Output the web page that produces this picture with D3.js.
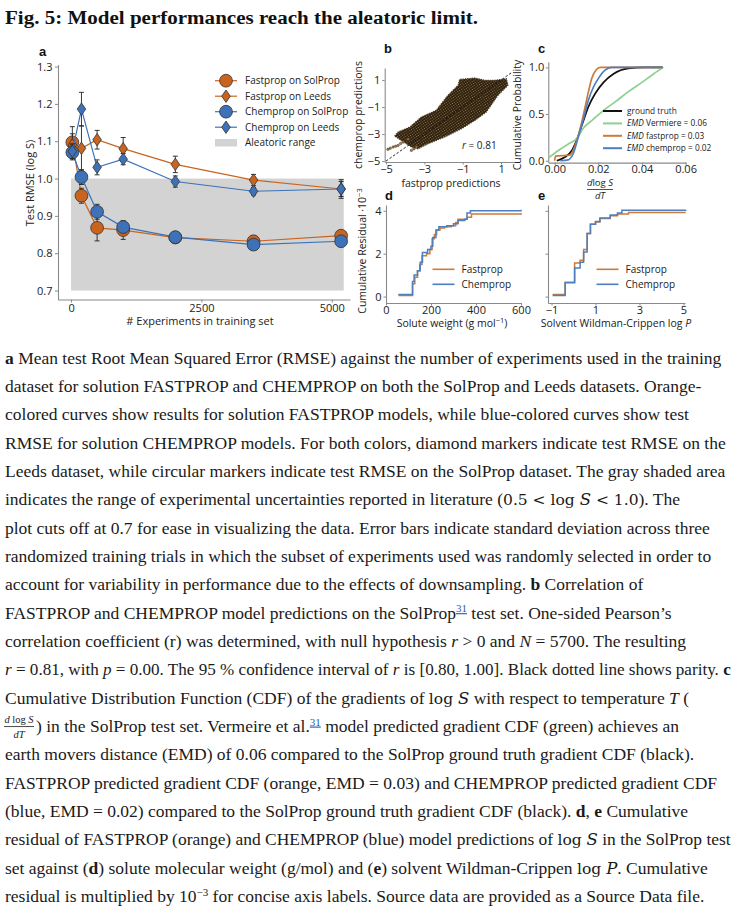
<!DOCTYPE html>
<html><head><meta charset="utf-8">
<script src="https://cdn.jsdelivr.net/npm/d3@7"></script>
<style>
body{margin:0;background:#fff}
</style></head><body>
<svg id="fig" width="737" height="916"></svg>
<script>
// ---- panel a: RMSE vs training set size
let nExp = [25, 200, 500, 1000, 2000, 3500, 5180];
let fastSol = [1.097, 0.954, 0.868, 0.862, 0.842, 0.832, 0.847];
let fastSolSd = [0.042, 0.02, 0.035, 0.025, 0.012, 0.015, 0.008];
let fastLeeds = [1.09, 1.081, 1.104, 1.080, 1.038, 0.996, 0.972];
let fastLeedsSd = [0.03, 0.06, 0.025, 0.03, 0.022, 0.015, 0.02];
let chemSol = [1.07, 1.004, 0.911, 0.870, 0.843, 0.823, 0.832];
let chemSolSd = [0.02, 0.02, 0.02, 0.015, 0.012, 0.008, 0.006];
let chemLeeds = [1.073, 1.186, 1.030, 1.052, 0.992, 0.966, 0.972];
let chemLeedsSd = [0.02, 0.045, 0.02, 0.015, 0.015, 0.01, 0.025];
let aleatoricY = [0.7, 1.0];
let aleatoricX = [0, 5230];
let aTicksY = [0.7, 0.8, 0.9, 1.0, 1.1, 1.2, 1.3];
let aTicksX = [0, 2500, 5000];

// ---- panel b: prediction cloud (outline) + sparse tail points
let cloudEdge = [[-4.55,-3.15],[-4.37,-2.85],[-3.76,-2.48],[-3.16,-1.74],[-2.38,-1.24],[-1.77,-0.13],
  [-1.24,0.61],[-1.16,1.05],[-0.37,1.15],[0.15,0.98],[0.67,0.98],[1.28,1.1],[1.36,0.61],[0.84,-0.13],
  [0.23,-1.37],[-0.37,-1.99],[-1.07,-2.61],[-1.94,-3.22],[-2.81,-3.72],[-3.33,-4.09],[-3.68,-3.96],[-4.2,-3.47]];
let tailPts = [[-4.9,-4.13],[-4.63,-3.96],[-4.37,-3.84],[-4.11,-3.59],[-3.85,-3.39],[-3.68,-4.21],
  [-3.42,-3.96],[-4.78,-4.05],[-4.5,-3.9],[-4.24,-3.7],[-3.55,-4.1]];
let bTicks = [-5, -3, -1, 1];
let rValue = 0.81;

// ---- panel c: gradient CDFs
let cdfTruth = [[0.001,0],[0.0048,0.04],[0.0079,0.11],[0.0109,0.27],[0.0132,0.43],[0.0155,0.58],[0.0186,0.72],
  [0.0224,0.84],[0.0269,0.93],[0.0338,0.99],[0.041,1.0],[0.0495,1.0]];
let cdfVermeire = [[-0.0028,0.03],[0.0017,0.11],[0.0063,0.18],[0.0102,0.24],[0.0132,0.35],[0.017,0.43],
  [0.0224,0.54],[0.0277,0.63],[0.0338,0.74],[0.04,0.84],[0.0453,0.93],[0.0498,1.0]];
let cdfFast = [[0,0],[0.0004,0.05],[0.007,0.06],[0.0102,0.22],[0.0125,0.42],[0.014,0.58],[0.0155,0.74],
  [0.017,0.88],[0.0189,0.97],[0.0209,1.0],[0.0495,1.0]];
let cdfChem = [[0.0026,0],[0.0063,0.01],[0.0086,0.08],[0.0109,0.26],[0.0132,0.45],[0.0155,0.65],[0.0178,0.79],
  [0.02,0.88],[0.0231,0.97],[0.026,1.0],[0.0495,1.0]];
let cLegend = ["ground truth", "Vermiere = 0.06", "fastprop = 0.03", "chemprop = 0.02"];
let cTicksX = [0, 0.02, 0.04, 0.06];
let cTicksY = [0, 0.5, 1];

// ---- panel d: cumulative residual vs solute weight
let resWFast = [[55,0.05],[115,0.05],[118,0.6],[128,0.9],[140,1.2],[150,1.5],[160,1.9],[180,2.0],[195,2.2],
  [205,2.7],[215,2.9],[225,3.1],[240,3.2],[260,3.25],[290,3.3],[310,3.45],[320,3.6],[345,3.6],[360,3.7],[380,3.85],[600,3.9]];
let resWChem = [[55,0.1],[115,0.1],[118,0.7],[125,1.0],[140,1.2],[152,1.6],[162,2.05],[185,2.2],[200,2.35],
  [208,2.75],[222,3.1],[235,3.25],[270,3.3],[300,3.4],[320,3.55],[350,3.6],[360,3.9],[375,4.0],[600,4.05]];
// ---- panel e: cumulative residual vs solvent logP
let resPFast = [[-0.95,0.1],[-0.4,0.1],[-0.38,0.67],[0.05,0.67],[0.05,1.56],[0.3,1.69],[0.46,2.19],[0.62,2.94],
  [0.77,3.37],[1.0,3.48],[1.2,3.64],[1.67,3.77],[2.0,3.85],[2.5,3.92],[5.1,3.92]];
let resPChem = [[-0.95,0.05],[-0.4,0.05],[-0.38,0.65],[0.05,0.65],[0.05,1.33],[0.3,1.6],[0.46,2.08],[0.62,2.94],
  [0.77,3.37],[1.0,3.5],[1.2,3.66],[1.67,3.8],[2.0,3.9],[2.2,4.03],[5.1,4.05]];
let resTicksY = [0, 2, 4];
let dTicksX = [0, 200, 400, 600];
let eTicksX = [-1, 1, 3, 5];

const ORANGE = "#c8641f", BLUE = "#3d72b8";
const SANS = "Open Sans";

let svg = d3.select("#fig");
svg.append("rect").attr("width", 737).attr("height", 916).attr("fill", "#fff");
let defs = svg.append("defs");

function styleAxis(g) {
  g.attr("font-family", SANS).attr("font-size", 11);
  g.select(".domain").attr("stroke", "#8a8a8a").attr("stroke-width", 1.1);
  g.selectAll(".tick line").attr("stroke", "#8a8a8a");
  g.selectAll(".tick text").attr("fill", "#222");
}
function label(g, x, y, txt, size, rot) {
  let t = g.append("text").attr("x", x).attr("y", y).attr("text-anchor", "middle")
    .attr("font-family", SANS).attr("font-size", size).attr("fill", "#222").text(txt);
  if (rot) t.attr("transform", `rotate(-90,${x},${y})`);
  return t;
}
function panelLetter(x, y, l) {
  svg.append("text").attr("x", x).attr("y", y).attr("font-family", "Liberation Sans")
    .attr("font-weight", "bold").attr("font-size", 13).attr("fill", "#111").text(l);
}

// title
svg.append("text").attr("x", 5).attr("y", 24).attr("font-family", "Liberation Serif").attr("font-weight", "bold")
  .attr("font-size", 19.8).attr("textLength", 473).attr("lengthAdjust", "spacingAndGlyphs")
  .attr("fill", "#111").text("Fig. 5: Model performances reach the aleatoric limit.");

// ================= panel a
let xA = d3.scaleLinear().domain([-250, 5350]).range([58, 350]);
let yA = d3.scaleLinear().domain([0.676, 1.305]).range([299.5, 64.7]);
let gA = svg.append("g");
gA.append("rect").attr("x", xA(aleatoricX[0])).attr("width", xA(aleatoricX[1]) - xA(aleatoricX[0]))
  .attr("y", yA(aleatoricY[1])).attr("height", yA(aleatoricY[0]) - yA(aleatoricY[1])).attr("fill", "#d3d3d3");
gA.append("g").attr("transform", `translate(0,${yA.range()[0]})`)
  .call(d3.axisBottom(xA).tickValues(aTicksX).tickFormat(d3.format("d")).tickSize(3).tickSizeOuter(0).tickPadding(1.5)).call(styleAxis);
gA.append("g").attr("transform", `translate(${xA.range()[0]},0)`)
  .call(d3.axisLeft(yA).tickValues(aTicksY).tickFormat(d3.format(".1f")).tickSize(3).tickSizeOuter(0).tickPadding(2.5)).call(styleAxis);

const diamond = "M0,-6.2L4.3,0L0,6.2L-4.3,0Z";
let aSeries = [
  {name: "Fastprop on SolProp", vals: fastSol, sd: fastSolSd, color: ORANGE, shape: "circle"},
  {name: "Fastprop on Leeds", vals: fastLeeds, sd: fastLeedsSd, color: ORANGE, shape: "diamond"},
  {name: "Chemprop on SolProp", vals: chemSol, sd: chemSolSd, color: BLUE, shape: "circle"},
  {name: "Chemprop on Leeds", vals: chemLeeds, sd: chemLeedsSd, color: BLUE, shape: "diamond"}
];
function marker(g, s, x, y) {
  if (s.shape == "circle") {
    g.append("circle").attr("cx", x).attr("cy", y).attr("r", 6.4).attr("fill", s.color).attr("stroke", "#333").attr("stroke-width", 0.8);
  } else {
    g.append("path").attr("d", diamond).attr("transform", `translate(${x},${y})`).attr("fill", s.color).attr("stroke", "#333").attr("stroke-width", 0.8);
  }
}
aSeries.forEach(s => {
  let line = d3.line().x((d, i) => xA(nExp[i])).y(d => yA(d));
  gA.append("path").attr("d", line(s.vals)).attr("fill", "none").attr("stroke", s.color).attr("stroke-width", 1.2);
  s.vals.forEach((v, i) => {
    let x = xA(nExp[i]), y0 = yA(v - s.sd[i]), y1 = yA(v + s.sd[i]);
    gA.append("path").attr("d", `M${x},${y0}V${y1}M${x - 2.5},${y0}H${x + 2.5}M${x - 2.5},${y1}H${x + 2.5}`)
      .attr("stroke", "#222").attr("stroke-width", 0.9).attr("fill", "none");
  });
  s.vals.forEach((v, i) => marker(gA, s, xA(nExp[i]), yA(v)));
});
// legend a
aSeries.forEach((s, i) => {
  let y = 80.7 + i * 15.5;
  gA.append("line").attr("x1", 215).attr("x2", 237).attr("y1", y).attr("y2", y).attr("stroke", s.color).attr("stroke-width", 1.2);
  marker(gA, s, 226, y);
  gA.append("text").attr("x", 245).attr("y", y + 3.6).attr("font-family", SANS).attr("font-size", 10).attr("fill", "#222").text(s.name);
});
gA.append("rect").attr("x", 215).attr("y", 139).attr("width", 22).attr("height", 7.5).attr("fill", "#d3d3d3");
gA.append("text").attr("x", 245).attr("y", 146.3).attr("font-family", SANS).attr("font-size", 10).attr("fill", "#222").text("Aleatoric range");
label(gA, 34, 183, "Test RMSE (log S)", 11, true);
label(gA, 200, 325, "# Experiments in training set", 11);
panelLetter(39, 56, "a");

// ================= panel b
let xB = d3.scaleLinear().domain([-5.07, 1.75]).range([384.7, 515.4]);
let yB = d3.scaleLinear().domain([-5.07, 1.9]).range([162, 67.9]);
let gB = svg.append("g");
let pat = defs.append("pattern").attr("id", "dots").attr("patternUnits", "userSpaceOnUse")
  .attr("width", 2.2).attr("height", 2.2).attr("patternTransform", "rotate(-35)");
pat.append("rect").attr("width", 2.2).attr("height", 2.2).attr("fill", "#2b1f10");
pat.append("circle").attr("cx", 1.1).attr("cy", 1.1).attr("r", 0.6).attr("fill", "#9c7c47");
gB.append("path").attr("d", d3.line().x(d => xB(d[0])).y(d => yB(d[1])).curve(d3.curveLinearClosed)(cloudEdge))
  .attr("fill", "url(#dots)").attr("stroke", "#4a3820").attr("stroke-width", 1.2).attr("stroke-dasharray", "1.3,1");
gB.selectAll(".tail").data(tailPts).join("circle").attr("cx", d => xB(d[0])).attr("cy", d => yB(d[1]))
  .attr("r", 1.2).attr("fill", "#a88650").attr("stroke", "#3b2b18").attr("stroke-width", 0.5);
gB.append("line").attr("x1", xB(-5)).attr("y1", yB(-5)).attr("x2", xB(1.55)).attr("y2", yB(1.55))
  .attr("stroke", "#111").attr("stroke-width", 0.9).attr("stroke-dasharray", "2.5,1.8");
gB.append("g").attr("transform", `translate(0,${yB.range()[0]})`)
  .call(d3.axisBottom(xB).tickValues(bTicks).tickFormat(d3.format("d")).tickSize(2.5).tickSizeOuter(0).tickPadding(0.5)).call(styleAxis);
gB.append("g").attr("transform", `translate(${xB.range()[0]},0)`)
  .call(d3.axisLeft(yB).tickValues(bTicks).tickFormat(d3.format("d")).tickSize(2.5).tickSizeOuter(0).tickPadding(2)).call(styleAxis);
let rT = gB.append("text").attr("x", 462).attr("y", 149).attr("font-family", SANS).attr("font-size", 10).attr("fill", "#222");
rT.append("tspan").attr("font-style", "italic").text("r");
rT.append("tspan").text(" = " + rValue.toFixed(2));
label(gB, 362, 115, "chemprop predictions", 10.5, true);
label(gB, 451, 187, "fastprop predictions", 10.5);
panelLetter(384, 53, "b");

// ================= panel c
let xC = d3.scaleLinear().domain([-0.0029, 0.0602]).range([548.3, 686]);
let yC = d3.scaleLinear().domain([-0.02, 1.06]).range([162.6, 61.8]);
let gC = svg.append("g");
gC.append("g").attr("transform", `translate(0,${yC.range()[0]})`)
  .call(d3.axisBottom(xC).tickValues(cTicksX).tickFormat(d3.format(".2f")).tickSize(2.5).tickSizeOuter(0).tickPadding(0.5)).call(styleAxis);
gC.append("g").attr("transform", `translate(${xC.range()[0]},0)`)
  .call(d3.axisLeft(yC).tickValues(cTicksY).tickFormat(d3.format(".1f")).tickSize(2.5).tickSizeOuter(0).tickPadding(1.5)).call(styleAxis);
let cSeries = [
  {d: cdfTruth, color: "#111", emd: false},
  {d: cdfVermeire, color: "#8ed08e", emd: true},
  {d: cdfFast, color: "#cd7a3a", emd: true},
  {d: cdfChem, color: "#4d7fc0", emd: true}
];
let cLine = d3.line().x(d => xC(d[0])).y(d => yC(d[1])).curve(d3.curveMonotoneX);
cSeries.forEach(s => gC.append("path").attr("d", cLine(s.d)).attr("fill", "none").attr("stroke", s.color).attr("stroke-width", 1.7));
cSeries.forEach((s, i) => {
  let y = 111 + i * 12.4;
  gC.append("line").attr("x1", 603).attr("x2", 622).attr("y1", y).attr("y2", y).attr("stroke", s.color).attr("stroke-width", 2);
  let t = gC.append("text").attr("x", 627).attr("y", y + 3).attr("font-family", SANS).attr("font-size", 8.3).attr("fill", "#222");
  if (s.emd) { t.append("tspan").attr("font-style", "italic").text("EMD "); }
  t.append("tspan").text(cLegend[i]);
});
label(gC, 521, 115, "Cumulative Probability", 10.5, true);
let fr = gC.append("text").attr("x", 600).attr("y", 186).attr("text-anchor", "middle").attr("font-family", SANS).attr("font-size", 9.5).attr("fill", "#222");
fr.append("tspan").attr("font-style", "italic").text("d");
fr.append("tspan").text("log ");
fr.append("tspan").attr("font-style", "italic").text("S");
gC.append("line").attr("x1", 587).attr("x2", 613).attr("y1", 189.5).attr("y2", 189.5).attr("stroke", "#222").attr("stroke-width", 0.8);
gC.append("text").attr("x", 600).attr("y", 198.5).attr("text-anchor", "middle").attr("font-family", SANS).attr("font-size", 9.5)
  .attr("font-style", "italic").attr("fill", "#222").text("dT");
panelLetter(538, 53, "c");

// ================= panels d, e
let yR = d3.scaleLinear().domain([-0.3, 4.27]).range([303, 205]);
let xD = d3.scaleLinear().domain([0, 600]).range([386, 521]);
let xE = d3.scaleLinear().domain([-1.16, 5.07]).range([548, 685]);
function residualPanel(xs, fast, chem, ticksX, showY, legX) {
  let g = svg.append("g");
  g.append("g").attr("transform", `translate(0,${yR.range()[0]})`)
    .call(d3.axisBottom(xs).tickValues(ticksX).tickFormat(d3.format("d")).tickSize(2.5).tickSizeOuter(0).tickPadding(0.5)).call(styleAxis);
  let ax = d3.axisLeft(yR).tickValues(resTicksY).tickFormat(d3.format("d")).tickSize(2.5).tickSizeOuter(0).tickPadding(2);
  if (!showY) ax.tickFormat("");
  g.append("g").attr("transform", `translate(${xs.range()[0]},0)`).call(ax).call(styleAxis);
  let ln = d3.line().x(d => xs(d[0])).y(d => yR(d[1])).curve(d3.curveStepAfter);
  g.append("path").attr("d", ln(fast)).attr("fill", "none").attr("stroke", "#cd7a3a").attr("stroke-width", 1.5);
  g.append("path").attr("d", ln(chem)).attr("fill", "none").attr("stroke", "#4d7fc0").attr("stroke-width", 1.5);
  [["Fastprop", "#cd7a3a"], ["Chemprop", "#4d7fc0"]].forEach((e, i) => {
    let y = 269.3 + i * 15;
    g.append("line").attr("x1", legX).attr("x2", legX + 22).attr("y1", y).attr("y2", y).attr("stroke", e[1]).attr("stroke-width", 1.6);
    g.append("text").attr("x", legX + 29).attr("y", y + 3.5).attr("font-family", SANS).attr("font-size", 10).attr("fill", "#222").text(e[0]);
  });
  return g;
}
let gD = residualPanel(xD, resWFast, resWChem, dTicksX, true, 432.5);
let gE = residualPanel(xE, resPFast, resPChem, eTicksX, false, 596.5);
let yl = gD.append("text").attr("transform", "rotate(-90,366,251)").attr("x", 366).attr("y", 251).attr("text-anchor", "middle")
  .attr("font-family", SANS).attr("font-size", 10.5).attr("fill", "#222");
yl.append("tspan").text("Cumulative Residual ·10");
yl.append("tspan").attr("dy", -4).attr("font-size", 7.5).text("−3");
let xl = gD.append("text").attr("x", 452).attr("y", 327).attr("text-anchor", "middle").attr("font-family", SANS).attr("font-size", 10.5).attr("fill", "#222");
xl.append("tspan").text("Solute weight (g mol");
xl.append("tspan").attr("dy", -4).attr("font-size", 7.5).text("−1");
xl.append("tspan").attr("dy", 4).text(")");
let el = gE.append("text").attr("x", 616).attr("y", 327).attr("text-anchor", "middle").attr("font-family", SANS).attr("font-size", 10.5).attr("fill", "#222");
el.append("tspan").text("Solvent Wildman-Crippen log ");
el.append("tspan").attr("font-style", "italic").text("P");
panelLetter(385, 200, "d");
panelLetter(538, 200, "e");

// ================= caption
let captionLines = [
  [["b", "a"], ["n", " Mean test Root Mean Squared Error (RMSE) against the number of experiments used in the training"]],
  [["n", "dataset for solution FASTPROP and CHEMPROP on both the SolProp and Leeds datasets. Orange-"]],
  [["n", "colored curves show results for solution FASTPROP models, while blue-colored curves show test"]],
  [["n", "RMSE for solution CHEMPROP models. For both colors, diamond markers indicate test RMSE on the"]],
  [["n", "Leeds dataset, while circular markers indicate test RMSE on the SolProp dataset. The gray shaded area"]],
  [["n", "indicates the range of experimental uncertainties reported in literature ("], ["m", "0.5 < log "], ["mi", "S"], ["m", " < 1.0"], ["n", "). The"]],
  [["n", "plot cuts off at 0.7 for ease in visualizing the data. Error bars indicate standard deviation across three"]],
  [["n", "randomized training trials in which the subset of experiments used was randomly selected in order to"]],
  [["n", "account for variability in performance due to the effects of downsampling. "], ["b", "b"], ["n", " Correlation of"]],
  [["n", "FASTPROP and CHEMPROP model predictions on the SolProp"], ["ref", "31"], ["n", " test set. One-sided Pearson’s"]],
  [["n", "correlation coefficient (r) was determined, with null hypothesis "], ["i", "r"], ["n", " > 0 and "], ["i", "N"], ["n", " = 5700. The resulting"]],
  [["i", "r"], ["n", " = 0.81, with "], ["i", "p"], ["n", " = 0.00. The 95 % confidence interval of "], ["i", "r"], ["n", " is [0.80, 1.00]. Black dotted line shows parity. "], ["b", "c"]],
  [["n", "Cumulative Distribution Function (CDF) of the gradients of "], ["m", "log "], ["mi", "S"], ["n", " with respect to temperature "], ["i", "T"], ["n", " ("]],
  [["frac", ""], ["n", ") in the SolProp test set. Vermeire et al."], ["ref", "31"], ["n", " model predicted gradient CDF (green) achieves an"]],
  [["n", "earth movers distance (EMD) of 0.06 compared to the SolProp ground truth gradient CDF (black)."]],
  [["n", "FASTPROP predicted gradient CDF (orange, EMD = 0.03) and CHEMPROP predicted gradient CDF"]],
  [["n", "(blue, EMD = 0.02) compared to the SolProp ground truth gradient CDF (black). "], ["b", "d"], ["n", ", "], ["b", "e"], ["n", " Cumulative"]],
  [["n", "residual of FASTPROP (orange) and CHEMPROP (blue) model predictions of "], ["m", "log "], ["mi", "S"], ["n", " in the SolProp test"]],
  [["n", "set against ("], ["b", "d"], ["n", ") solute molecular weight (g/mol) and ("], ["b", "e"], ["n", ") solvent Wildman-Crippen "], ["m", "log "], ["mi", "P"], ["n", ". Cumulative"]],
  [["n", "residual is multiplied by 10"], ["sup", "−3"], ["n", " for concise axis labels. Source data are provided as a Source Data file."]]
];
const CAP_SIZE = 17.5;
let cap = svg.append("g").attr("font-family", "Liberation Serif").attr("font-size", CAP_SIZE).attr("fill", "#1a1a1a");
captionLines.forEach((segs, i) => {
  let y = 363.5 + i * 28.35;
  let startX = 5;
  if (segs[0][0] == "frac") {
    let f = cap.append("text").attr("x", 19).attr("y", y - 9.5).attr("text-anchor", "middle").attr("font-size", 10.5);
    f.append("tspan").attr("font-style", "italic").text("d");
    f.append("tspan").text(" log ");
    f.append("tspan").attr("font-style", "italic").text("S");
    cap.append("line").attr("x1", 4).attr("x2", 34).attr("y1", y - 5.5).attr("y2", y - 5.5).attr("stroke", "#1a1a1a").attr("stroke-width", 0.8);
    cap.append("text").attr("x", 19).attr("y", y + 6).attr("text-anchor", "middle")
      .attr("font-size", 10.5).attr("font-style", "italic").text("dT");
    startX = 36;
  }
  let t = cap.append("text").attr("x", startX).attr("y", y);
  let shifted = 0;
  segs.forEach(s => {
    if (s[0] == "frac") return;
    let sp = t.append("tspan").text(s[1]);
    if (shifted) { sp.attr("dy", shifted); shifted = 0; }
    if (s[0] == "b") sp.attr("font-weight", "bold");
    if (s[0] == "i") sp.attr("font-style", "italic");
    if (s[0] == "m") sp.attr("font-family", "DejaVu Serif").attr("font-size", 15.5);
    if (s[0] == "mi") sp.attr("font-family", "DejaVu Serif").attr("font-size", 16.5).attr("font-style", "italic");
    if (s[0] == "sup" || s[0] == "ref") {
      sp.attr("dy", -6.5).attr("font-size", 11);
      shifted = 6.5;
      if (s[0] == "ref") sp.attr("fill", "#1b5fa8").attr("text-decoration", "underline");
    }
  });
  // shrink a line slightly if it would run past the right edge
  let w = t.node().getComputedTextLength();
  if (startX + w > 731) t.attr("font-size", CAP_SIZE * (731 - startX) / w);
});
</script>
</body></html>
